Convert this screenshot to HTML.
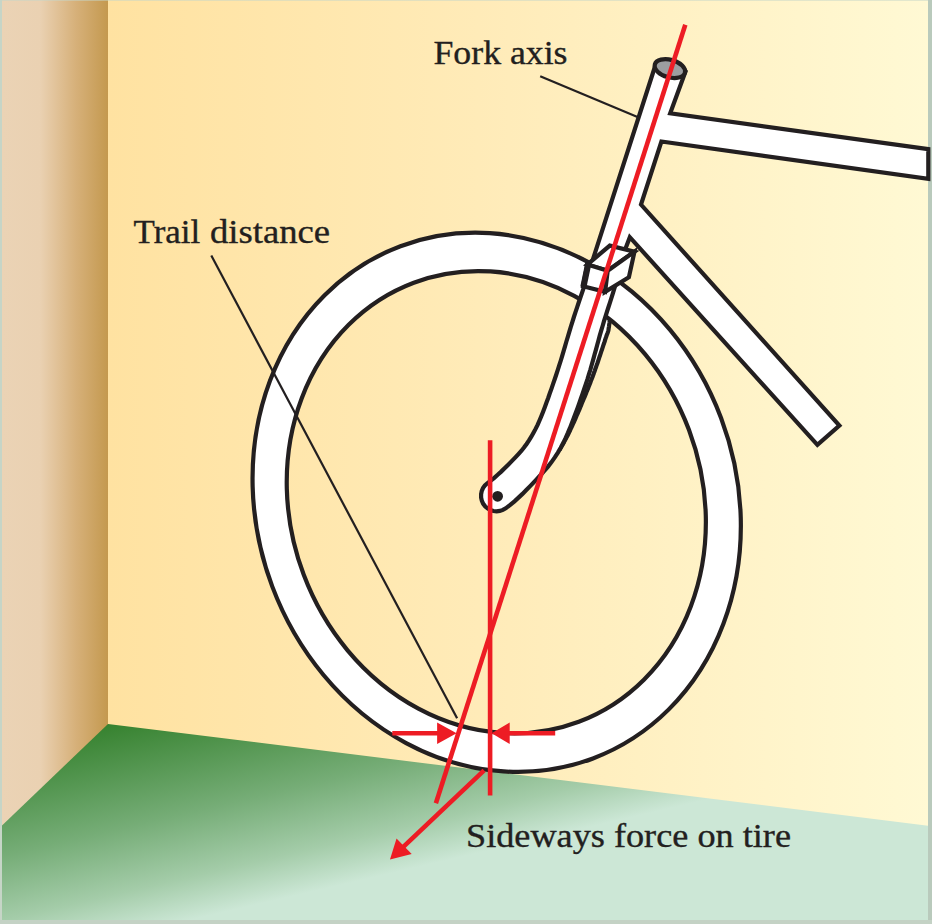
<!DOCTYPE html>
<html lang="en">
<head>
<meta charset="utf-8">
<title>Fork axis and trail distance</title>
<style>
html,body{margin:0;padding:0;background:#c6d5c7;}
body{width:932px;height:924px;overflow:hidden;}
svg{display:block;}
text{font-family:"Liberation Serif",serif;fill:#231f20;stroke:#231f20;stroke-width:0.35px;}
</style>
</head>
<body>
<svg width="932" height="924" viewBox="0 0 932 924">
<defs>
<linearGradient id="wall" gradientUnits="userSpaceOnUse" x1="108" y1="0" x2="928" y2="0">
<stop offset="0" stop-color="#ffe2a1"/>
<stop offset="0.45" stop-color="#ffebb8"/>
<stop offset="1" stop-color="#fff9d4"/>
</linearGradient>
<linearGradient id="side" gradientUnits="userSpaceOnUse" x1="2" y1="0" x2="108" y2="0">
<stop offset="0" stop-color="#ebd3b5"/>
<stop offset="0.36" stop-color="#ead1b2"/>
<stop offset="0.7" stop-color="#d6b079"/>
<stop offset="1" stop-color="#c4994f"/>
</linearGradient>
<linearGradient id="floor" gradientUnits="userSpaceOnUse" x1="108" y1="724" x2="155.5" y2="928.0">
<stop offset="0" stop-color="#36822f"/>
<stop offset="0.5" stop-color="#76ad77"/>
<stop offset="0.8" stop-color="#a4cca9"/>
<stop offset="1" stop-color="#cce7d6"/>
</linearGradient>
</defs>
<!-- frame / border -->
<rect x="0" y="0" width="932" height="924" fill="#c6d5c7"/>
<rect x="928" y="0" width="4" height="924" fill="#b9cabc"/>
<rect x="0" y="920" width="932" height="4" fill="#c4d2c5"/>
<!-- side wall -->
<rect x="2" y="0" width="107" height="831" fill="url(#side)"/>
<!-- back wall -->
<rect x="108" y="0" width="820" height="831" fill="url(#wall)"/>
<rect x="2" y="0" width="926" height="1" fill="#c6d5c7" fill-opacity="0.5"/>
<!-- floor -->
<polygon points="108,724 928,825.7 928,920 2,920 2,825.5" fill="url(#floor)"/>

<g fill="#fff" stroke="#231f20" stroke-width="4.2" stroke-linejoin="miter">
<!-- back fork blade sliver -->
<path d="M615.1,286.4 L614.9,287.6 L614.7,288.8 L614.5,290.0 L614.4,291.2 L614.2,292.4 L614.0,293.6 L613.8,294.8 L613.6,296.0 L613.5,297.2 L613.3,298.4 L613.1,299.5 L612.9,300.7 L612.7,301.9 L612.5,303.1 L612.3,304.3 L612.2,305.4 L612.0,306.6 L611.8,307.8 L611.6,309.0 L611.4,310.1 L611.2,311.3 L611.0,312.5 L610.9,313.7 L610.7,314.8 L610.5,316.0 L610.3,317.2 L610.2,318.3 L610.0,319.5 L609.8,320.7 L609.6,321.8 L609.5,323.0 L609.3,324.2 L609.1,325.3 L609.0,326.5 L608.8,327.7 L608.6,328.8 L608.5,330.0 L608.2,331.1 L607.8,332.3 L607.4,333.5 L606.9,334.6 L606.5,335.8 L606.1,337.0 L605.7,338.1 L605.3,339.3 L605.0,340.5 L604.6,341.7 L604.2,342.8 L603.8,344.0 L603.4,345.2 L603.0,346.4 L602.6,347.6 L602.2,348.8 L601.8,350.0 L601.4,351.2 L601.0,352.4 L600.6,353.6 L600.2,354.8 L599.8,356.0 L599.4,357.2 L599.0,358.4 L598.6,359.6 L598.2,360.8 L597.8,362.0 L597.4,363.2 L596.9,364.5 L596.5,365.7 L596.1,366.9 L595.7,368.1 L595.2,369.3 L594.8,370.6 L594.4,371.8 L593.9,373.0 L593.5,374.2 L593.0,375.5 L592.6,376.7 L592.1,377.9 L591.7,379.1 L591.2,380.3 L590.7,381.5 L590.3,382.7 L589.8,383.9 L589.3,385.2 L588.8,386.4 L588.4,387.6 L587.9,388.8 L587.4,389.9 L586.9,391.1 L586.4,392.3 L586.0,393.5 L585.5,394.7 L585.0,395.9 L584.5,397.1 L584.0,398.3 L583.5,399.5 L583.0,400.6 L582.5,401.8 L582.0,403.0 L581.5,404.2 L581.1,405.4 L580.6,406.5 L580.1,407.7 L579.6,408.9 L579.1,410.1 L578.6,411.3 L578.1,412.5 L577.6,413.6 L577.0,414.8 L576.5,416.0 L576.0,417.2 L575.5,418.4 L575.0,419.6 L574.4,420.9 L573.9,422.1 L573.3,423.3 L572.8,424.5 L572.2,425.7 L571.7,426.9 L571.1,428.1 L570.5,429.3 L570.0,430.6 L569.4,431.8 L568.8,433.0 L568.2,434.2 L567.6,435.4 L566.9,436.6 L566.3,437.9 L565.7,439.1 L565.0,440.3 L564.3,441.5 L563.7,442.8 L563.0,444.0 L562.3,445.2 L561.5,446.4 L560.8,447.6 L560.1,448.9 L541.4,449.7 L542.1,448.7 L542.7,447.7 L543.4,446.6 L544.1,445.6 L544.7,444.5 L545.3,443.4 L545.9,442.4 L546.6,441.3 L547.2,440.2 L547.7,439.1 L548.3,438.0 L548.9,436.9 L549.5,435.8 L550.0,434.7 L550.5,433.6 L551.1,432.5 L551.6,431.3 L552.1,430.2 L552.6,429.1 L553.1,427.9 L553.6,426.8 L554.1,425.7 L554.6,424.5 L555.1,423.4 L555.6,422.2 L556.0,421.1 L556.5,419.9 L557.0,418.8 L557.4,417.6 L557.9,416.5 L558.3,415.3 L558.8,414.2 L559.2,413.0 L559.6,411.8 L560.1,410.7 L560.5,409.5 L560.9,408.3 L561.3,407.2 L561.8,406.0 L562.2,404.8 L562.6,403.7 L563.0,402.5 L563.4,401.3 L563.8,400.2 L564.3,399.0 L564.7,397.8 L565.1,396.7 L565.5,395.5 L565.9,394.3 L566.3,393.2 L566.7,392.0 L567.1,390.8 L567.5,389.6 L568.0,388.5 L568.4,387.3 L568.8,386.1 L569.2,384.9 L569.6,383.8 L570.0,382.6 L570.3,381.4 L570.7,380.2 L571.1,379.1 L571.5,377.9 L571.9,376.7 L572.3,375.5 L572.7,374.4 L573.0,373.2 L573.4,372.0 L573.8,370.8 L574.2,369.6 L574.5,368.4 L574.9,367.3 L575.3,366.1 L575.6,364.9 L576.0,363.7 L576.3,362.5 L576.7,361.3 L577.0,360.1 L577.4,358.9 L577.7,357.7 L578.1,356.6 L578.4,355.4 L578.7,354.2 L579.1,353.0 L579.4,351.8 L579.8,350.6 L580.1,349.4 L580.4,348.2 L580.8,347.0 L581.1,345.8 L581.4,344.6 L581.8,343.4 L582.1,342.2 L582.5,341.0 L582.8,339.9 L583.1,338.7 L583.5,337.5 L583.8,336.3 L584.2,335.1 L584.5,333.9 L584.9,332.7 L585.2,331.5 L585.6,330.3 L585.9,329.1 L586.3,327.9 L586.6,326.8 L587.0,325.6 L587.3,324.4 L587.7,323.2 L588.1,322.0 L588.5,320.8 L588.8,319.7 L589.2,318.5 L589.6,317.3 L589.9,316.1 L590.3,314.9 L590.7,313.7 L591.1,312.6 L591.5,311.4 L591.9,310.2 L592.2,309.0 L592.6,307.9 L593.0,306.7 L593.4,305.5 L593.8,304.3 L594.2,303.1 L594.6,302.0 L594.9,300.8 L595.3,299.6 L595.7,298.4 L596.1,297.3 L596.5,296.1 L596.9,294.9 L597.3,293.7 L597.7,292.5 L598.1,291.4 L598.5,290.2 L598.8,289.0 L599.2,287.8 L599.6,286.7 Z"/>
<!-- wheel ring -->
<path fill-rule="evenodd" d="M592.96,758.41 A273.6,239.7 69.4 1 0 400.44,246.19 A273.6,239.7 69.4 1 0 592.96,758.41 Z M578.81,721.71 A234.5,205.8 69.4 1 0 413.79,282.69 A234.5,205.8 69.4 1 0 578.81,721.71 Z"/>
<!-- front fork blade -->
<path d="M588.5,274.0 L586.9,278.7 L585.2,283.4 L583.6,288.1 L582.0,292.9 L580.3,297.7 L578.7,302.5 L577.1,307.3 L575.5,312.1 L573.9,317.0 L572.4,321.9 L570.8,326.8 L569.3,331.8 L567.9,336.6 L566.4,341.5 L565.0,346.3 L563.6,351.1 L562.2,355.8 L560.8,360.5 L559.3,365.2 L557.8,369.9 L556.3,374.5 L554.7,379.2 L553.1,383.9 L551.5,388.6 L549.8,393.3 L548.2,398.0 L546.5,402.6 L544.8,407.2 L543.1,411.7 L541.3,416.2 L539.5,420.5 L537.6,424.8 L535.6,428.9 L533.5,432.8 L531.3,436.7 L529.0,440.4 L526.6,444.0 L524.0,447.6 L521.3,451.0 L518.2,454.4 L514.9,457.9 L511.5,461.4 L508.0,464.9 L504.6,468.3 L501.2,471.6 L497.7,474.7 L494.3,477.8 L490.8,480.6 L487.3,483.3 L484.9,485.5 L483.0,488.1 L481.7,491.1 L481.1,494.3 L481.1,497.5 L481.8,500.7 L483.1,503.6 L485.1,506.3 L487.5,508.4 L490.3,510.0 L493.4,511.0 L496.6,511.3 L499.8,510.9 L502.9,509.9 L505.7,508.3 L510.2,504.8 L514.5,501.3 L518.5,497.6 L522.5,493.9 L526.3,490.1 L529.9,486.4 L533.5,482.6 L537.0,478.9 L540.6,475.0 L544.3,470.9 L548.0,466.6 L551.5,462.1 L554.8,457.4 L557.9,452.6 L560.7,447.7 L563.3,442.8 L565.7,437.8 L567.9,432.9 L570.0,427.9 L571.9,423.0 L573.8,418.1 L575.6,413.2 L577.4,408.4 L579.1,403.6 L580.8,398.8 L582.5,394.0 L584.1,389.2 L585.8,384.3 L587.4,379.4 L588.9,374.4 L590.4,369.5 L591.8,364.5 L593.2,359.6 L594.5,354.7 L595.9,349.8 L597.2,345.0 L598.5,340.2 L599.8,335.4 L601.2,330.7 L602.6,326.0 L604.0,321.2 L605.5,316.5 L607.0,311.7 L608.5,307.0 L610.1,302.2 L611.6,297.4 L613.1,292.6 L614.6,287.7 L616.1,282.8 Z"/>
<!-- frame -->
<path d="M655,66.5 L589.5,270 L624,270 L625,250 L629.8,237.2 L817.4,444.9 L839.4,425.6 L641,204.6 L661.4,141.5 L928.3,178.8 L928.3,149.2 L670.2,113.3 L685.3,72 Z"/>
<!-- head tube top -->
<ellipse cx="669.9" cy="68.6" rx="15.6" ry="8.8" transform="rotate(15.5 669.9 68.6)" fill="#9c9ea1"/>
<!-- fork crown box -->
<polygon points="609.8,245.6 634.5,251.6 607.7,270.7 587.3,264.6"/>
<polygon points="587.3,264.6 607.7,270.7 605.1,291.9 583,286.3"/>
<polygon points="607.7,270.7 634.5,251.6 628.9,277.2 605.1,291.9"/>
<line x1="588.3" y1="263.5" x2="583.4" y2="286.8" stroke-width="6.2"/>
</g>
<circle cx="497.6" cy="496.3" r="5.4" fill="#231f20"/>

<!-- leader lines -->
<g stroke="#231f20" stroke-width="2.2" fill="none">
<line x1="540.2" y1="76.2" x2="637.5" y2="117"/>
<line x1="211.3" y1="255.4" x2="457.1" y2="718.2"/>
</g>

<!-- red construction lines -->
<g stroke="#ed1c24" stroke-width="4.6" fill="none">
<line x1="685.3" y1="24.8" x2="435.9" y2="803.2"/>
<line x1="490.1" y1="440.3" x2="490.1" y2="795.5"/>
<line x1="392.3" y1="733.3" x2="440" y2="733.3"/>
<line x1="555.2" y1="733.3" x2="508" y2="733.3"/>
<line x1="484.1" y1="770.3" x2="402" y2="848.2"/>
</g>
<g fill="#ed1c24">
<polygon points="456.6,733.3 437.1,722.6 437.1,744"/>
<polygon points="491.6,733.3 509.7,722.6 509.7,744"/>
<polygon points="390,859.5 396.5,838.4 411.7,854.1"/>
</g>

<!-- labels -->
<text x="433.5" y="64" font-size="33" textLength="134" lengthAdjust="spacingAndGlyphs">Fork axis</text>
<text y="242.6" font-size="33"><tspan x="133.6" textLength="66.6" lengthAdjust="spacingAndGlyphs">Trail</tspan> <tspan x="210" textLength="120" lengthAdjust="spacingAndGlyphs">distance</tspan></text>
<text x="466" y="846.8" font-size="33" textLength="325" lengthAdjust="spacingAndGlyphs">Sideways force on tire</text>
</svg>
</body>
</html>
